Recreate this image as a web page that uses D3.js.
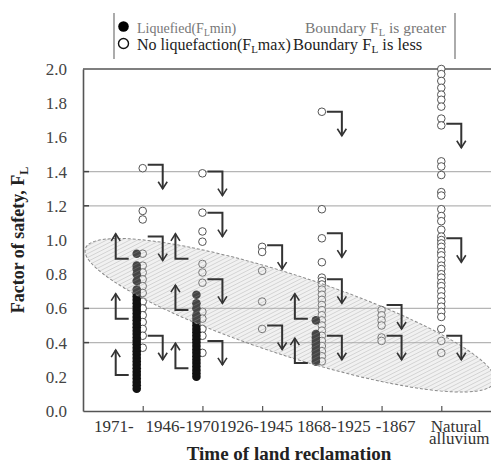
<!DOCTYPE html>
<html><head><meta charset="utf-8">
<script src="https://cdn.jsdelivr.net/npm/d3@7"></script>
<style>
body{margin:0;background:#fff}
svg{display:block}
svg text{font-family:'Liberation Serif','Tinos','Times New Roman','Nimbus Roman','DejaVu Serif',serif !important}
</style>
</head><body><svg id="c" width="491" height="463"></svg>
<script>
// ---------------- data ----------------
const categories = ["1971-", "1946-1970", "1926-1945", "1868-1925", "-1867", "Natural alluvium"];
const yTicks = [0.0, 0.2, 0.4, 0.6, 0.8, 1.0, 1.2, 1.4, 1.6, 1.8, 2.0];
const gridValues = [0.4, 0.6, 1.2, 1.4];

// Liquefied (FL min) - filled circles, by category index
const liq1971 = [0.13,0.15,0.17,0.19,0.21,0.23,0.25,0.27,0.29,0.31,0.33,0.35,0.37,0.39,0.41,0.43,0.45,0.47,0.49,0.51,0.53,0.55,0.57,0.59,0.61,0.63,0.65,0.67,0.69,0.71,0.76,0.80,0.83,0.85,0.92];
const liq1946 = [0.20,0.22,0.24,0.26,0.28,0.30,0.32,0.34,0.36,0.38,0.40,0.42,0.44,0.46,0.48,0.50,0.52,0.54,0.56,0.60,0.63,0.68];
const liq1868 = [0.29,0.31,0.33,0.35,0.37,0.39,0.41,0.43,0.45,0.53];

// No liquefaction (FL max) - open circles
const noliq1971 = [1.42,1.17,1.12,0.92,0.85,0.81,0.77,0.73,0.69,0.64,0.60,0.56,0.52,0.48,0.44,0.37];
const noliq1946 = [1.39,1.16,1.05,0.99,0.86,0.81,0.75,0.58,0.54,0.48,0.44,0.34];
const noliq1926 = [0.96,0.93,0.82,0.64,0.48];
const noliq1868 = [1.75,1.18,1.01,0.87,0.78,0.76,0.74,0.71,0.68,0.65,0.62,0.59,0.56,0.53,0.50,0.47,0.44,0.41,0.38,0.35,0.32,0.29];
const noliq1867 = [0.59,0.56,0.53,0.50,0.43,0.41];
const noliqNatural = [2.00,1.97,1.93,1.89,1.85,1.82,1.78,1.71,1.67,1.46,1.43,1.38,1.28,1.26,1.18,1.14,1.11,1.06,1.02,1.00,0.98,0.96,0.93,0.91,0.88,0.85,0.83,0.80,0.78,0.75,0.73,0.70,0.67,0.64,0.61,0.58,0.55,0.48,0.41,0.34];

// Boundary arrows
const upArrowCat = [0,0,0,1,1,1,3,3];
const upArrowFL  = [0.89,0.54,0.21,0.89,0.59,0.25,0.54,0.28];
const downArrowCat = [0,0,0,1,1,1,1,2,2,3,3,3,3,4,4,5,5,5];
const downArrowFL  = [1.44,1.02,0.44,1.40,1.16,0.77,0.41,0.97,0.50,1.75,1.04,0.77,0.44,0.62,0.44,1.68,1.01,0.44];

// Ellipse (tips in category-index / FL units)
const ellipseTips = [[-0.96, 0.95], [5.89, 0.17]];

// ---------------- layout ----------------
const SERIF = "'Liberation Serif','Tinos','Times New Roman','Nimbus Roman','DejaVu Serif',serif";
const svg = d3.select("#c");
const L = 83, R = 501, T = 69, B = 411, W = 491;
const x = d3.scalePoint().domain(d3.range(categories.length)).range([L, R]).padding(1);
const xc = d3.scaleLinear().domain([0, categories.length - 1]).range([x(0), x(categories.length - 1)]);
const y = d3.scaleLinear().domain([0, 2]).range([B, T]);

const defs = svg.append("defs");
const pat = defs.append("pattern").attr("id","hatch").attr("patternUnits","userSpaceOnUse")
  .attr("width",3.5).attr("height",3.5).attr("patternTransform","rotate(45)");
pat.append("rect").attr("width",3.5).attr("height",3.5).attr("fill","rgba(205,205,205,0.28)");
pat.append("line").attr("x1",0).attr("y1",0).attr("x2",0).attr("y2",3.5)
  .attr("stroke","rgba(150,150,150,0.65)").attr("stroke-width",0.9);

// gridlines
svg.append("g").selectAll("line").data(gridValues).join("line")
  .attr("x1", L).attr("x2", W).attr("y1", d => y(d)).attr("y2", d => y(d))
  .attr("stroke", "#b5b5b5").attr("stroke-width", 1.2);
svg.append("g").selectAll("line").data(gridValues).join("line")
  .attr("x1", L).attr("x2", L + 6).attr("y1", d => y(d)).attr("y2", d => y(d))
  .attr("stroke", "#444").attr("stroke-width", 1.5);

// frame top
svg.append("line").attr("x1", L).attr("x2", W).attr("y1", T).attr("y2", T)
  .attr("stroke", "#555").attr("stroke-width", 1.6);

// y axis
const ya = svg.append("g").attr("transform", `translate(${L},0)`)
  .call(d3.axisLeft(y).tickValues(yTicks).tickFormat(d3.format(".1f")).tickSize(0).tickSizeOuter(0).tickPadding(16));
ya.attr("font-family", SERIF);
ya.select(".domain").attr("stroke", "#555").attr("stroke-width", 1.6);
ya.selectAll("text").attr("font-family", SERIF).attr("font-size", 17).attr("fill", "#444");

// x axis
const xa = svg.append("g").attr("transform", `translate(0,${B})`)
  .call(d3.axisBottom(x).tickSize(-5).tickSizeOuter(0).tickFormat(""));
xa.select(".domain").attr("stroke", "#555").attr("stroke-width", 1.6);
xa.selectAll(".tick line").attr("stroke", "#555").attr("stroke-width", 1.2);

// category labels (manually shifted as in the original)
const labelShift = [-29, -20, -6, 12, 14, 15];
categories.forEach((c, i) => {
  const parts = c.split(" ");
  const t = svg.append("text").attr("x", x(i) + labelShift[i]).attr("y", 432)
    .attr("text-anchor", "middle").attr("font-family", SERIF).attr("font-size", 17).attr("fill", "#333");
  parts.forEach((p, k) => {
    t.append("tspan").attr("x", x(i) + labelShift[i] + (k ? 3 : 0)).attr("dy", k ? 12 : 0).text(p);
  });
});

// axis titles
svg.append("text").attr("x", 289).attr("y", 460).attr("text-anchor", "middle").attr("font-family", SERIF)
  .attr("font-size", 19).attr("font-weight", "bold").attr("fill", "#222").text("Time of land reclamation");
const yt = svg.append("text").attr("transform", "translate(24,240) rotate(-90)").attr("font-family", SERIF)
  .attr("text-anchor", "middle").attr("font-size", 18).attr("font-weight", "bold").attr("fill", "#222");
yt.append("tspan").text("Factor of safety, F");
yt.append("tspan").attr("font-size", 12).attr("dy", 4).text("L");

// data points
const filledSets = [[0, liq1971], [1, liq1946], [3, liq1868]];
const openSets = [[0, noliq1971], [1, noliq1946], [2, noliq1926], [3, noliq1868], [4, noliq1867], [5, noliqNatural]];
const filled = filledSets.flatMap(([c, vals]) => vals.map(v => ({c, v})));
const open = openSets.flatMap(([c, vals]) => vals.map(v => ({c, v})));

svg.append("g").selectAll("circle").data(open).join("circle")
  .attr("cx", d => x(d.c)).attr("cy", d => y(d.v)).attr("r", 3.8)
  .attr("fill", "#fff").attr("stroke", "#555").attr("stroke-width", 1);
svg.append("g").selectAll("circle").data(filled).join("circle")
  .attr("cx", d => x(d.c) - 6).attr("cy", d => y(d.v)).attr("r", 4.3)
  .attr("fill", "#111");

// ellipse
const p0 = [xc(ellipseTips[0][0]), y(ellipseTips[0][1])];
const p1 = [xc(ellipseTips[1][0]), y(ellipseTips[1][1])];
const ecx = (p0[0] + p1[0]) / 2, ecy = (p0[1] + p1[1]) / 2;
const ea = Math.hypot(p1[0] - p0[0], p1[1] - p0[1]) / 2;
const eang = Math.atan2(p1[1] - p0[1], p1[0] - p0[0]) * 180 / Math.PI;
svg.append("ellipse").attr("cx", 0).attr("cy", 0).attr("rx", ea).attr("ry", 40)
  .attr("transform", `translate(${ecx},${ecy}) rotate(${eang})`)
  .attr("fill", "url(#hatch)").attr("stroke", "#8a8a8a").attr("stroke-width", 1).attr("stroke-dasharray", "3,2");

// arrows
const ag = svg.append("g").attr("fill", "none").attr("stroke", "#333").attr("stroke-width", 2);
downArrowCat.forEach((c, i) => {
  const cx = x(c), y0 = y(downArrowFL[i]);
  ag.append("path").attr("d", `M${cx + 5},${y0}H${cx + 20}V${y0 + 24}`);
  ag.append("path").attr("stroke-width", 1.6).attr("d", `M${cx + 15.5},${y0 + 17}L${cx + 20},${y0 + 24}L${cx + 24.5},${y0 + 17}`);
});
upArrowCat.forEach((c, i) => {
  const cx = x(c), y0 = y(upArrowFL[i]);
  ag.append("path").attr("d", `M${cx - 14},${y0}H${cx - 27}V${y0 - 25}`);
  ag.append("path").attr("stroke-width", 1.6).attr("d", `M${cx - 31.5},${y0 - 18}L${cx - 27},${y0 - 25}L${cx - 22.5},${y0 - 18}`);
});

// legend
const lg = svg.append("g");
lg.append("line").attr("x1", 114).attr("x2", 114).attr("y1", 13).attr("y2", 59).attr("stroke", "#888").attr("stroke-width", 1.4);
lg.append("line").attr("x1", 455).attr("x2", 455).attr("y1", 13).attr("y2", 59).attr("stroke", "#888").attr("stroke-width", 1.4);
lg.append("circle").attr("cx", 123.5).attr("cy", 26.5).attr("r", 5.3).attr("fill", "#000");
lg.append("circle").attr("cx", 123.5).attr("cy", 43.5).attr("r", 5).attr("fill", "#fff").attr("stroke", "#111").attr("stroke-width", 1.4);
function subText(xp, yp, pre, post, color, size) {
  const t = lg.append("text").attr("x", xp).attr("y", yp).attr("font-family", SERIF).attr("font-size", size).attr("fill", color);
  t.append("tspan").text(pre);
  t.append("tspan").attr("font-size", size * 0.68).attr("dy", 3).text("L");
  t.append("tspan").attr("dy", -3).text(post);
}
subText(137, 33, "Liquefied(F", "min)", "#777", 14);
subText(305, 33, "Boundary F", " is greater", "#777", 15.5);
subText(137, 50, "No liquefaction(F", "max)", "#222", 16);
subText(293, 50, "Boundary F", " is less", "#222", 16.5);
</script>
</body></html>
